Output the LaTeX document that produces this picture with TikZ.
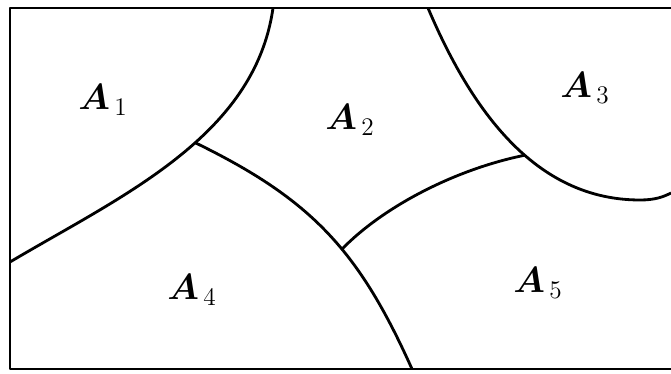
\documentclass[tikz,border=0pt]{standalone}
\usepackage{amsmath, bm}
\usetikzlibrary{calc}

\begin{document}
\begin{tikzpicture}[
    x=0.02cm, y=-0.02cm,
    edge/.style={line width=1.6pt, line join=round},
    region/.style={font=\huge, inner sep=0pt}
]
  \useasboundingbox (0,0) rectangle (671,374);

  % frame (open on the right)
  \draw[edge] (671,8) -- (10,8) -- (10,369) -- (671,369);

  % boundaries, junctions taken on the curves
  \draw[edge] (273,8) .. controls (254.7,136.7) and (121.8,195.7) .. coordinate[pos=0.435] (J14) (10,262);
  \draw[edge] (428,8) .. controls (474.8,118.4) and (540,200) .. coordinate[pos=0.55] (J35) (640,200)
              .. controls (655,200) and (663,197) .. (671,193);
  \draw[edge] (J14) .. controls +(117,57) and +(-53,-118) .. coordinate[pos=0.575] (J45) (412,369);
  \draw[edge] (J45) .. controls +(42,-43) and +(-69,14) .. (J35);

  % labels
  \node[region] (A1) at (103,100) {$\bm{A}_{\,1}$};
  \node[region] (A2) at (350,120) {$\bm{A}_{\,2}$};
  \node[region] (A3) at (585,88) {$\bm{A}_{\,3}$};
  \node[region] (A4) at (192,290) {$\bm{A}_{\,4}$};
  \node[region] (A5) at (538,283) {$\bm{A}_{\,5}$};
\end{tikzpicture}
\end{document}
